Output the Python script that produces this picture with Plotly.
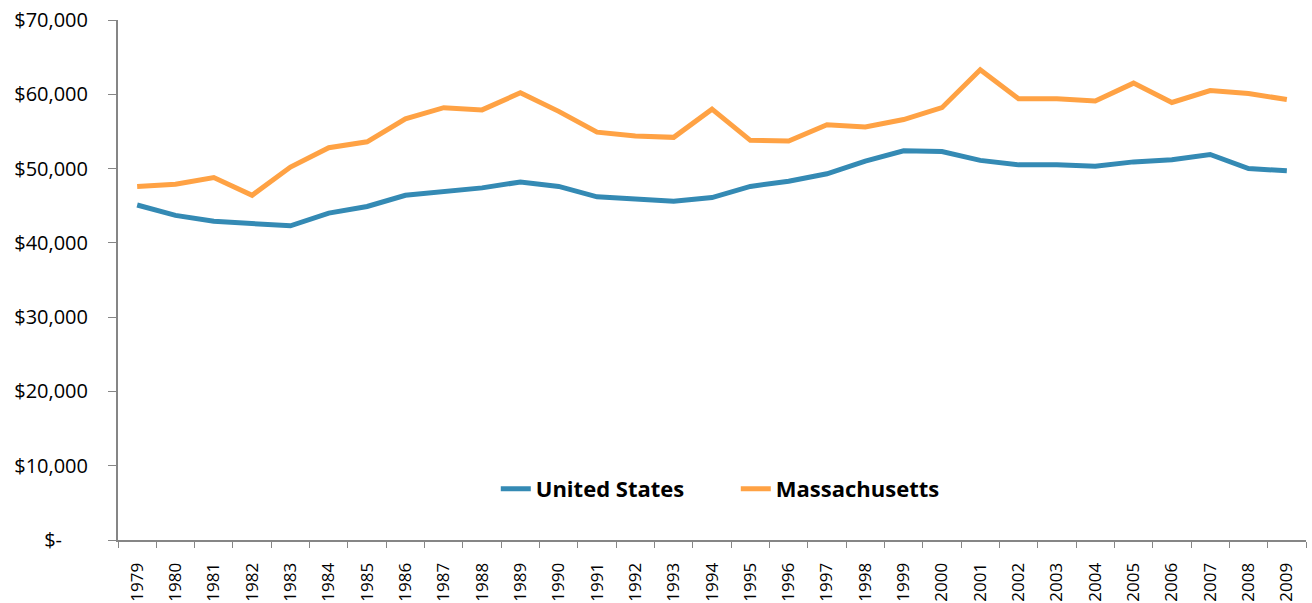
import plotly.graph_objects as go

years = [str(y) for y in range(1979, 2010)]
united_states = [45100, 43700, 42900, 42600, 42300, 44000, 44900, 46400, 46900, 47400, 48200,
                 47600, 46200, 45900, 45600, 46100, 47600, 48300, 49300, 51000, 52400,
                 52300, 51100, 50500, 50500, 50300, 50900, 51200, 51900, 50000, 49700]
massachusetts = [47600, 47900, 48800, 46400, 50200, 52800, 53600, 56700, 58200, 57900, 60200,
                 57700, 54900, 54400, 54200, 58000, 53800, 53700, 55900, 55600, 56600,
                 58200, 63300, 59400, 59400, 59100, 61500, 58900, 60500, 60100, 59300]
y_ticks = [0, 10000, 20000, 30000, 40000, 50000, 60000, 70000]
y_labels = ["$-\u00a0\u00a0\u00a0\u00a0\u00a0", "$10,000", "$20,000", "$30,000", "$40,000",
            "$50,000", "$60,000", "$70,000"]

fig = go.Figure()
fig.add_trace(go.Scatter(x=years, y=united_states, name="United States", mode="lines",
                         line=dict(color="#348AB4", width=5)))
fig.add_trace(go.Scatter(x=years, y=massachusetts, name="Massachusetts", mode="lines",
                         line=dict(color="#FFA244", width=5)))

fig.update_layout(
    width=1312, height=603,
    margin=dict(l=118, r=6, t=20, b=63, autoexpand=False),
    paper_bgcolor="white", plot_bgcolor="white",
    font=dict(family="Open Sans", color="#000000"),
    showlegend=True,
    legend=dict(orientation="h", x=0.318, xanchor="left", y=0.098, yanchor="middle",
                font=dict(size=22, family="Open Sans", weight="bold"),
                entrywidth=195, entrywidthmode="pixels",
                bgcolor="rgba(0,0,0,0)"),
)
fig.update_xaxes(type="category", tickson="boundaries", ticks="outside", ticklen=6,
                 tickcolor="#868686", showline=True, linecolor="#868686", linewidth=2,
                 showgrid=False, tickangle=-90, tickfont=dict(size=17),
                 ticklabelstandoff=14, ticklabeloverflow="allow",
                 range=[-0.5, 30.5], automargin=False)
fig.update_yaxes(range=[0, 70000], tickvals=y_ticks, ticktext=y_labels, ticks="outside",
                 ticklen=8, tickcolor="#868686", showline=True, linecolor="#868686",
                 linewidth=2, showgrid=False, zeroline=False, tickfont=dict(size=20),
                 ticklabelstandoff=16, ticklabeloverflow="allow", automargin=False)

fig.write_html("out.html", config={"displayModeBar": False},
               post_script="document.body.style.margin='0';")
